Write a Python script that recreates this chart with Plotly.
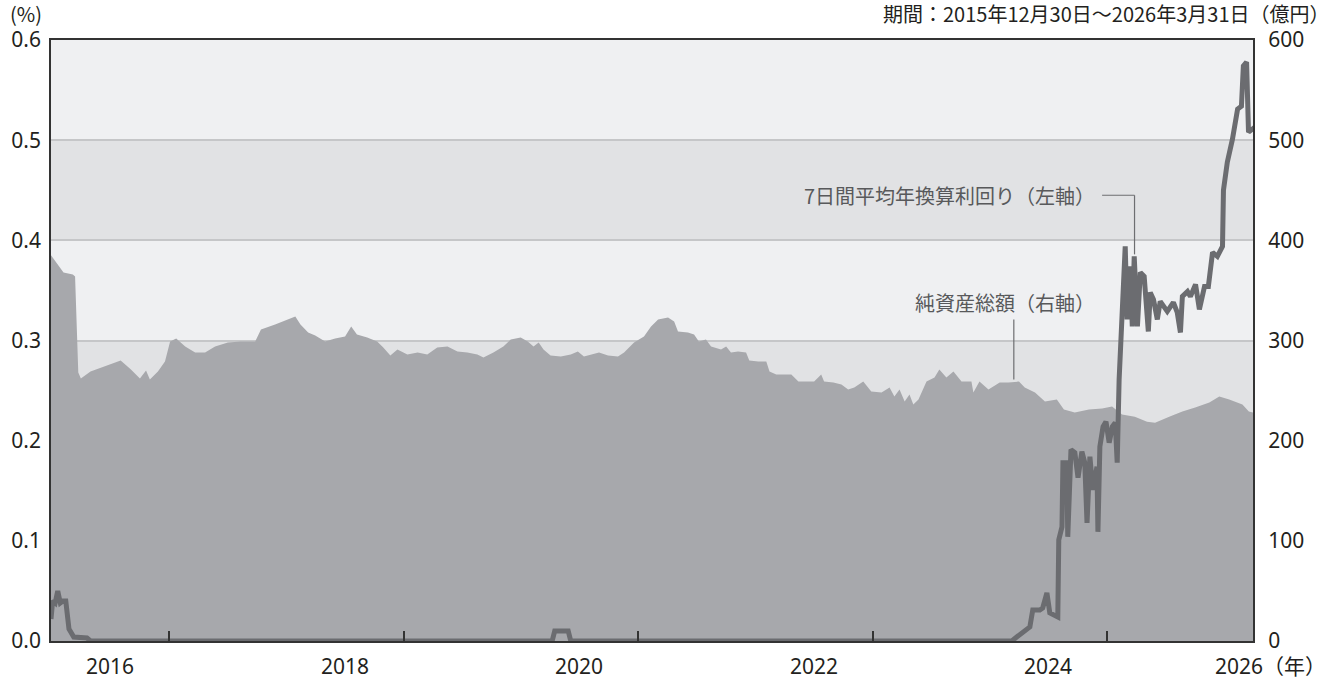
import plotly.graph_objects as go

# ---------------- data ----------------
asset_dates = [
    "2015-12-30", "2016-01-16", "2016-02-07", "2016-03-07", "2016-03-14", "2016-03-24", "2016-04-01",
    "2016-05-01", "2016-06-02", "2016-07-15", "2016-08-03", "2016-09-04", "2016-10-02", "2016-10-21",
    "2016-11-02", "2016-11-27", "2016-12-19",
    "2017-01-04", "2017-01-23", "2017-02-20", "2017-03-23", "2017-04-23", "2017-05-24", "2017-07-03",
    "2017-08-12", "2017-09-26", "2017-10-14", "2017-11-27",
    "2018-01-07", "2018-01-29", "2018-02-14", "2018-03-10", "2018-04-01", "2018-05-02", "2018-06-02",
    "2018-07-03", "2018-07-22", "2018-08-09", "2018-09-10", "2018-10-11", "2018-10-30", "2018-11-21",
    "2018-12-13",
    "2019-01-13", "2019-02-14", "2019-03-16", "2019-04-16", "2019-05-18", "2019-06-18", "2019-07-19",
    "2019-08-19", "2019-09-07", "2019-10-08", "2019-11-08", "2019-12-01",
    "2020-01-01", "2020-01-23", "2020-02-10", "2020-02-26", "2020-03-12", "2020-04-03", "2020-05-05",
    "2020-06-05", "2020-06-27", "2020-07-16", "2020-08-07", "2020-09-01", "2020-09-29", "2020-10-30",
    "2020-11-18", "2020-12-19",
    "2021-01-19", "2021-02-10", "2021-03-04", "2021-04-04", "2021-04-23", "2021-05-05", "2021-06-05",
    "2021-06-24", "2021-07-09", "2021-07-31", "2021-08-16", "2021-09-16", "2021-10-02", "2021-10-17",
    "2021-11-08", "2021-12-03", "2021-12-13",
    "2022-01-10", "2022-02-04", "2022-02-14", "2022-03-07", "2022-04-01", "2022-04-23", "2022-05-15",
    "2022-06-15", "2022-07-03", "2022-07-25", "2022-08-03", "2022-09-01", "2022-09-26", "2022-10-17",
    "2022-11-05", "2022-12-03", "2022-12-28",
    "2023-01-29", "2023-02-23", "2023-03-10", "2023-03-26", "2023-04-11", "2023-04-26", "2023-05-08",
    "2023-05-24", "2023-06-18", "2023-07-13", "2023-07-28", "2023-08-19", "2023-09-10", "2023-10-05",
    "2023-11-05", "2023-11-11", "2023-11-30", "2023-12-28",
    "2024-02-01", "2024-02-28", "2024-04-01", "2024-04-19", "2024-05-21", "2024-06-21", "2024-07-28",
    "2024-08-19", "2024-09-22", "2024-11-05", "2024-12-16",
    "2025-01-16", "2025-02-16", "2025-03-28", "2025-05-05", "2025-05-30", "2025-07-13", "2025-08-23",
    "2025-10-02", "2025-11-15", "2025-12-16",
    "2026-01-16", "2026-02-26", "2026-03-18", "2026-03-31",
]
net_assets = [  # 億円
    385, 378, 368, 366, 364, 268, 262, 269, 273, 278, 280, 271, 262, 270, 261, 269, 279,
    299, 302, 294, 288, 288, 294, 298, 299, 299, 311, 316,
    321, 324, 316, 308, 305, 299, 302, 304, 314, 306, 303, 299, 293, 285, 291,
    286, 288, 286, 293, 294, 289, 288, 286, 283, 288, 294, 301,
    303, 299, 294, 298, 291, 285, 284, 286, 289, 284, 286, 288, 285, 284, 288, 298,
    304, 314, 321, 323, 319, 309, 308, 306, 299, 301, 294, 291, 294, 288, 289, 288, 280,
    279, 279, 269, 266, 266, 266, 259, 259, 259, 266, 259, 258, 256, 251, 253, 259, 249,
    248, 253, 244, 251, 239, 246, 236, 241, 259, 263, 271, 263, 269, 259, 259, 248, 259, 251,
    258, 258, 259, 253, 248, 239, 241, 231, 228, 231, 232,
    234, 226, 224, 219, 218, 224, 229, 233, 238, 244,
    241, 236, 229, 228,
]

yield_dates = [
    "2015-12-30", "2016-01-04", "2016-01-12", "2016-01-20", "2016-01-28", "2016-02-05", "2016-02-14",
    "2016-02-24", "2016-03-10", "2016-04-01", "2016-04-20", "2016-05-01",
    "2020-04-08", "2020-04-16", "2020-05-28", "2020-06-05",
    "2024-03-10", "2024-03-25", "2024-04-25", "2024-05-05", "2024-05-14", "2024-06-05", "2024-06-14",
    "2024-06-27", "2024-07-06", "2024-07-31", "2024-08-03", "2024-08-13", "2024-08-16", "2024-08-28",
    "2024-08-31", "2024-09-10", "2024-09-22", "2024-10-02", "2024-10-14", "2024-10-23", "2024-10-30",
    "2024-11-08", "2024-11-17", "2024-11-30", "2024-12-03", "2024-12-09", "2024-12-19", "2024-12-28",
    "2025-01-07", "2025-01-17", "2025-01-26", "2025-02-01", "2025-02-07", "2025-02-11", "2025-02-17",
    "2025-02-26", "2025-03-04", "2025-03-14", "2025-03-20", "2025-03-26", "2025-04-05", "2025-04-14",
    "2025-04-26", "2025-05-03", "2025-05-09", "2025-05-15", "2025-05-25", "2025-06-06", "2025-06-15",
    "2025-07-07", "2025-07-26", "2025-08-07", "2025-08-17", "2025-08-23", "2025-09-08", "2025-09-17",
    "2025-10-03", "2025-10-15", "2025-10-31", "2025-11-12", "2025-11-25", "2025-12-10", "2025-12-26",
    "2025-12-29",
    "2026-01-10", "2026-01-26", "2026-02-11", "2026-02-23", "2026-03-01", "2026-03-11", "2026-03-17",
    "2026-03-29", "2026-03-31",
]
yield_7d = [  # %
    0.022, 0.040, 0.038, 0.050, 0.038, 0.040, 0.040, 0.012, 0.004, 0.003, 0.003, 0.0,
    0.0, 0.010, 0.010, 0.0,
    0.0, 0.004, 0.011, 0.014, 0.031, 0.031, 0.033, 0.048, 0.028, 0.024, 0.101, 0.114, 0.178, 0.178,
    0.104, 0.191, 0.188, 0.163, 0.189, 0.178, 0.118, 0.184, 0.151, 0.174, 0.109, 0.194, 0.214, 0.219,
    0.198, 0.214, 0.218, 0.178, 0.261, 0.291, 0.334, 0.394, 0.321, 0.374, 0.314, 0.384, 0.314, 0.368,
    0.364, 0.341, 0.309, 0.348, 0.341, 0.321, 0.339, 0.329, 0.338, 0.328, 0.308, 0.344, 0.349, 0.344,
    0.356, 0.331, 0.354, 0.354, 0.388, 0.384, 0.394, 0.450,
    0.478, 0.501, 0.531, 0.534, 0.574, 0.578, 0.508, 0.511, 0.510,
]

x_label_pos = ["2016-07-02", "2018-07-02", "2020-07-02", "2022-07-02", "2024-07-02"]
x_label_text = ["2016", "2018", "2020", "2022", "2024"]
last_label_pos = "2025-11-27"
last_label_text = "2026（年）"
left_ticks = [0.0, 0.1, 0.2, 0.3, 0.4, 0.5, 0.6]
right_ticks = [0, 100, 200, 300, 400, 500, 600]

X_RANGE = ["2015-12-30", "2026-03-31"]
FONT = "Noto Sans, Noto Sans CJK JP, sans-serif"
JP = "Noto Sans CJK JP, Noto Sans, sans-serif"
TXT = "#231f20"
NOTE = "#58595b"

fig = go.Figure()
fig.add_trace(go.Scatter(
    x=asset_dates, y=net_assets, yaxis="y", mode="lines",
    line=dict(width=0, color="#a7a8ac"), fill="tozeroy", fillcolor="#a7a8ac",
    hoverinfo="skip", showlegend=False,
))
fig.add_trace(go.Scatter(
    x=yield_dates, y=yield_7d, yaxis="y2", mode="lines",
    line=dict(width=5, color="#6b6c70"), hoverinfo="skip", showlegend=False,
))

# alternating background bands
for lo, hi in [(0, 100), (200, 300), (400, 500)]:
    fig.add_shape(type="rect", xref="paper", x0=0, x1=1, yref="y", y0=lo, y1=hi,
                  fillcolor="#e1e2e4", line=dict(width=0), layer="below")

# leader lines
fig.add_shape(type="line", xref="x", yref="y2", x0="2024-12-16", x1="2025-03-27", y0=0.445, y1=0.445,
              line=dict(color="#6d6e71", width=1.2))
fig.add_shape(type="line", xref="x", yref="y2", x0="2025-03-27", x1="2025-03-27", y0=0.445, y1=0.386,
              line=dict(color="#6d6e71", width=1.2))
fig.add_shape(type="line", xref="x", yref="y", x0="2024-03-16", x1="2024-03-16", y0=321, y1=261,
              line=dict(color="#6d6e71", width=1.2))

annotations = [
    dict(text="7日間平均年換算利回り（左軸）", xref="paper", yref="paper", x=0.870, y=0.742,
         xanchor="right", yanchor="middle", showarrow=False, font=dict(family=JP, size=20, color=NOTE)),
    dict(text="純資産総額（右軸）", xref="paper", yref="paper", x=0.870, y=0.564,
         xanchor="right", yanchor="middle", showarrow=False, font=dict(family=JP, size=20, color=NOTE)),
    dict(text="(%)", xref="paper", yref="paper", x=-0.0208, y=1.044, xanchor="center", yanchor="middle",
         showarrow=False, font=dict(family=JP, size=20, color=TXT)),
    dict(text="期間：2015年12月30日～2026年3月31日（億円）", xref="paper", yref="paper", x=1.0655, y=1.044,
         xanchor="right", yanchor="middle", showarrow=False, font=dict(family=JP, size=20, color=TXT)),
    dict(text=last_label_text, x=last_label_pos, xref="x", y=-0.042, yref="paper", xanchor="left",
         yanchor="middle", showarrow=False, font=dict(family=FONT, size=21, color=TXT)),
]
for pos, txt in zip(x_label_pos, x_label_text):
    annotations.append(dict(text=txt, x=pos, xref="x", y=-0.042, yref="paper", xanchor="center",
                            yanchor="middle", showarrow=False, font=dict(family=FONT, size=21, color=TXT)))

fig.update_layout(
    width=1336, height=681,
    margin=dict(l=51, r=83, t=40, b=40, pad=0),
    paper_bgcolor="white", plot_bgcolor="#eff0f2",
    font=dict(family=FONT, size=21, color=TXT),
    showlegend=False,
    xaxis=dict(
        type="date", range=X_RANGE, showgrid=False, zeroline=False,
        showline=True, mirror=True, linecolor="#333333", linewidth=2,
        showticklabels=False, ticks="",
        minor=dict(ticks="inside", ticklen=10, tickwidth=1.5, tickcolor="#333333",
                   tick0="2016-01-01", dtick="M12", showgrid=False),
    ),
    yaxis=dict(
        range=[0, 600], side="right", tickmode="array", tickvals=right_ticks,
        showgrid=True, gridcolor="#c5c6c8", gridwidth=1.5, zeroline=False,
        showline=True, mirror=True, linecolor="#333333", linewidth=2,
        ticks="", ticklabelstandoff=9, tickfont=dict(size=21, color=TXT),
    ),
    yaxis2=dict(
        range=[0, 0.6], side="left", overlaying="y", tickmode="array", tickvals=left_ticks,
        tickformat=".1f", showgrid=False, zeroline=False, showline=False,
        ticks="", ticklabelstandoff=9, tickfont=dict(size=21, color=TXT),
    ),
    annotations=annotations,
)

fig.write_html(
    "out.html",
    config={"displayModeBar": False},
    post_script="document.body.style.margin='0';document.body.style.padding='0';"
                "document.body.style.overflow='hidden';",
)
